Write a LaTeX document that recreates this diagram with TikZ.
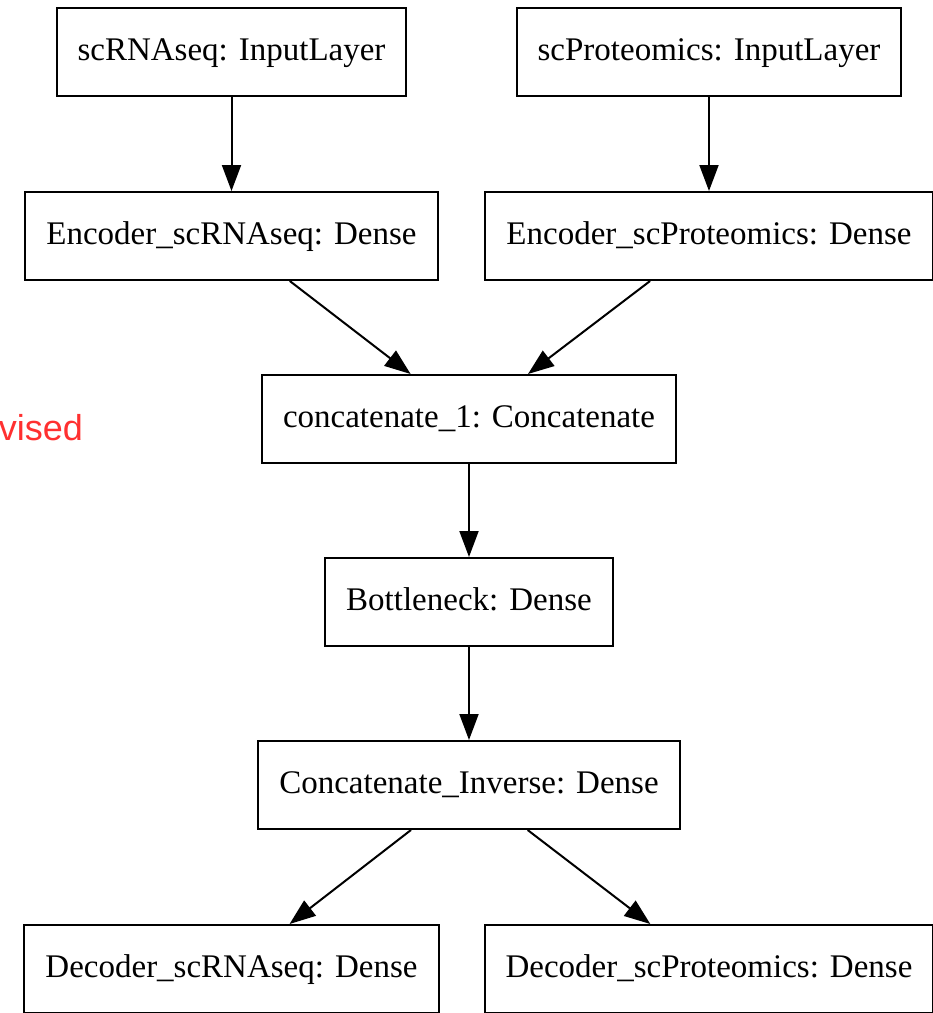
\documentclass[tikz,border=0pt]{standalone}
\usepackage{fontspec}
\setmainfont{Liberation Serif}
\newfontfamily\notefont{Liberation Sans}
\usetikzlibrary{arrows.meta}
\definecolor{notered}{RGB}{255,48,48}

\begin{document}
\begin{tikzpicture}[x=1pt,y=-1pt,->,>={Triangle[length=26pt,width=19pt]},line width=2pt]
        \tikzstyle{layer}=[draw,rectangle,minimum height=88pt,inner xsep=21pt,text height=23pt,text depth=7pt,font=\fontsize{33}{36}\selectfont]
        \tikzstyle{note}=[inner sep=0pt,text=notered,font=\notefont\fontsize{36}{40}\selectfont]

        \useasboundingbox (0,0) rectangle (933,1013);

        % Draw the input layer nodes
        \node[layer] (In-1) at (231.5,52) {scRNAseq: InputLayer};
        \node[layer] (In-2) at (709,52) {scProteomics: InputLayer};

        % Draw the encoder nodes
        \node[layer] (Enc-1) at (231.5,236) {Encoder\_scRNAseq: Dense};
        \node[layer] (Enc-2) at (709,236) {Encoder\_scProteomics: Dense};

        % Draw the middle nodes
        \node[layer] (Cat) at (469,419) {concatenate\_1: Concatenate};
        \node[layer] (Bn) at (469,602) {Bottleneck: Dense};
        \node[layer] (Inv) at (469,785) {Concatenate\_Inverse: Dense};

        % Draw the decoder nodes
        \node[layer] (Dec-1) at (231.5,969) {Decoder\_scRNAseq: Dense};
        \node[layer] (Dec-2) at (709,969) {Decoder\_scProteomics: Dense};

        % Connect the layers
        \foreach \source/\dest in {In-1/Enc-1,In-2/Enc-2,Enc-1/Cat,Enc-2/Cat,Cat/Bn,Bn/Inv,Inv/Dec-1,Inv/Dec-2}
            \path (\source) edge (\dest);

        % Annotate
        \node[note,anchor=base east] (lbl) at (84,440) {vised};
\end{tikzpicture}
\end{document}
